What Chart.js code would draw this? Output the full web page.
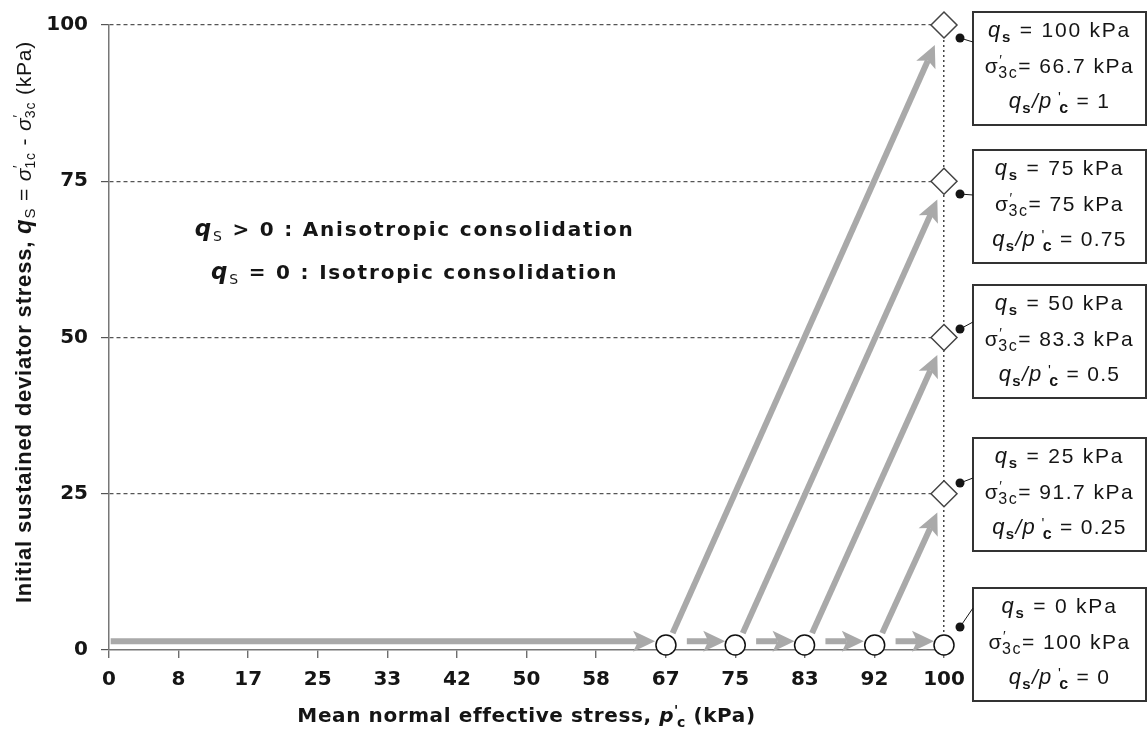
<!DOCTYPE html>
<html>
<head>
<meta charset="utf-8">
<script src="https://cdn.jsdelivr.net/npm/chart.js@4.4.1/dist/chart.umd.min.js"></script>
<style>
  html, body { margin: 0; padding: 0; background: #fff; }
  #wrap { width: 1148px; height: 732px; }
</style>
</head>
<body>
<div id="wrap"><canvas id="c" width="1148" height="732"></canvas></div>
<script>
// Mean normal effective stress ticks (kPa) and the rounded labels printed under them
const xTickValues = [0, 8.33, 16.67, 25, 33.33, 41.67, 50, 58.33, 66.67, 75, 83.33, 91.67, 100];
const xTickLabels = ['0', '8', '17', '25', '33', '42', '50', '58', '67', '75', '83', '92', '100'];

// Isotropically consolidated states (circles)
const isoP = [66.7, 75, 83.3, 91.7, 100];
const isoQ = [0.8, 0.8, 0.8, 0.8, 0.8];

// Anisotropically consolidated states (diamonds)
const anisoP = [100, 100, 100, 100];
const anisoQ = [100, 75, 50, 25];

// Isotropic loading paths along the p' axis
const isoPathFromP = [0.2, 69.2, 77.5, 85.8, 94.2];
const isoPathToP = [65.4, 73.8, 82.1, 90.4, 98.8];
const isoPathQ = [1.4, 1.4, 1.4, 1.4, 1.4];

// Deviatoric loading paths up to the sustained deviator stress
const shearFromP = [67.5, 75.9, 84.2, 92.6];
const shearFromQ = [2.7, 2.7, 2.7, 2.7];
const shearToP = [98.9, 99.2, 99.2, 99.2];
const shearToQ = [96.8, 72.1, 47.2, 22.0];

// Test conditions written in the side boxes
const caseQs = ['100', '75', '50', '25', '0'];
const caseSigma3c = ['66.7', '75', '83.3', '91.7', '100'];
const caseRatio = ['1', '0.75', '0.5', '0.25', '0'];

const ARROW_GREY = '#a9a9a9';
const INK = '#151515';

// Draws a run of text pieces (font changes, sub/superscripts) on one baseline
function drawRich(ctx, parts, x, y, align, spacing) {
  ctx.save();
  ctx.textAlign = 'left';
  ctx.textBaseline = 'alphabetic';
  if ('letterSpacing' in ctx) ctx.letterSpacing = (spacing || 0) + 'px';
  const widths = parts.map(p => { ctx.font = p.font; return ctx.measureText(p.t).width; });
  let total = 0;
  parts.forEach((p, i) => { total += (p.dx || 0) + widths[i]; });
  let cx = align === 'center' ? x - total / 2 : x;
  parts.forEach((p, i) => {
    cx += p.dx || 0;
    ctx.font = p.font;
    ctx.fillText(p.t, cx, y + (p.dy || 0));
    cx += widths[i];
  });
  ctx.restore();
  return total;
}

function drawArrow(ctx, x1, y1, x2, y2) {
  const len = Math.hypot(x2 - x1, y2 - y1);
  const ux = (x2 - x1) / len, uy = (y2 - y1) / len;
  const nx = -uy, ny = ux;
  const L = 22, W = 10.5, notch = 5;
  const bx = x2 - ux * (L - notch), by = y2 - uy * (L - notch);
  ctx.save();
  ctx.strokeStyle = ARROW_GREY;
  ctx.fillStyle = ARROW_GREY;
  ctx.lineWidth = 6;
  ctx.lineCap = 'butt';
  ctx.beginPath();
  ctx.moveTo(x1, y1);
  ctx.lineTo(bx, by);
  ctx.stroke();
  ctx.beginPath();
  ctx.moveTo(x2, y2);
  ctx.lineTo(x2 - ux * L + nx * W, y2 - uy * L + ny * W);
  ctx.lineTo(bx, by);
  ctx.lineTo(x2 - ux * L - nx * W, y2 - uy * L - ny * W);
  ctx.closePath();
  ctx.fill();
  ctx.restore();
}

// Stress paths, drawn underneath the state markers
const stressPaths = {
  id: 'stressPaths',
  beforeDatasetsDraw(chart) {
    const { ctx, scales: { x, y } } = chart;
    isoPathFromP.forEach((p, i) => {
      drawArrow(ctx, x.getPixelForValue(p), y.getPixelForValue(isoPathQ[i]),
        x.getPixelForValue(isoPathToP[i]), y.getPixelForValue(isoPathQ[i]));
    });
    shearFromP.forEach((p, i) => {
      drawArrow(ctx, x.getPixelForValue(p), y.getPixelForValue(shearFromQ[i]),
        x.getPixelForValue(shearToP[i]), y.getPixelForValue(shearToQ[i]));
    });
  }
};

// Legend text, condition boxes and axis titles
const notes = {
  id: 'notes',
  afterDraw(chart) {
    const { ctx, chartArea: area, scales: { x, y } } = chart;
    ctx.save();
    ctx.fillStyle = INK;

    // consolidation type note
    const NF = '"DejaVu Sans"';
    const noteX = x.getPixelForValue(36.6);
    drawRich(ctx, [
      { t: 'q', font: `bold italic 23px ${NF}` },
      { t: 'S', font: `14px ${NF}`, dy: 5 },
      { t: ' > 0 : Anisotropic consolidation', font: `bold 20px ${NF}` }
    ], noteX, y.getPixelForValue(66.3), 'center', 1.8);
    drawRich(ctx, [
      { t: 'q', font: `bold italic 23px ${NF}` },
      { t: 'S', font: `14px ${NF}`, dy: 5 },
      { t: ' = 0 : Isotropic consolidation', font: `bold 20px ${NF}` }
    ], noteX, y.getPixelForValue(59.3), 'center', 1.8);

    // condition boxes with leader dots
    const BF = '"Liberation Sans"';
    const boxLeft = area.right + 29, boxW = 173, boxH = 113;
    const boxTops = [12, 150, 285, 438, 588];
    const dotY = [38, 194, 329, 483, 627];
    const leadY = [42, 195, 322, 478, 608];
    caseQs.forEach((qs, i) => {
      const top = boxTops[i];
      ctx.fillStyle = '#fff';
      ctx.fillRect(boxLeft, top, boxW, boxH);
      ctx.strokeStyle = '#333';
      ctx.lineWidth = 2;
      ctx.strokeRect(boxLeft, top, boxW, boxH);

      ctx.strokeStyle = INK;
      ctx.lineWidth = 1;
      ctx.beginPath();
      ctx.moveTo(area.right + 16, dotY[i]);
      ctx.lineTo(boxLeft, leadY[i]);
      ctx.stroke();
      ctx.fillStyle = INK;
      ctx.beginPath();
      ctx.arc(area.right + 16, dotY[i], 4.5, 0, Math.PI * 2);
      ctx.fill();

      const cx = boxLeft + boxW / 2;
      drawRich(ctx, [
        { t: 'q', font: `italic 22px ${BF}` },
        { t: 's', font: `bold 15px ${BF}`, dy: 5 },
        { t: ' = ' + qs + ' kPa', font: `21px ${BF}` }
      ], cx, top + 25, 'center', 1.8);
      drawRich(ctx, [
        { t: 'σ', font: `21px ${BF}` },
        { t: '′', font: `14px ${BF}`, dy: -8 },
        { t: '3c', font: `16px ${BF}`, dy: 5, dx: -5 },
        { t: '= ' + caseSigma3c[i] + ' kPa', font: `21px ${BF}` }
      ], cx, top + 61, 'center', 1.5);
      drawRich(ctx, [
        { t: 'q', font: `italic 22px ${BF}` },
        { t: 's', font: `bold 15px ${BF}`, dy: 5 },
        { t: '/', font: `italic 21px ${BF}` },
        { t: 'p', font: `italic 22px ${BF}` },
        { t: ' \'', font: `15px ${BF}`, dy: -6 },
        { t: 'c', font: `bold 16px ${BF}`, dy: 5, dx: -3 },
        { t: ' = ' + caseRatio[i], font: `21px ${BF}` }
      ], cx, top + 96, 'center', 1.3);
    });

    // x-axis title
    drawRich(ctx, [
      { t: 'Mean normal effective stress, ', font: `bold 20px ${NF}` },
      { t: 'p', font: `bold italic 20px ${NF}` },
      { t: '\'', font: `bold 14px ${NF}`, dy: -7 },
      { t: 'c', font: `bold 14px ${NF}`, dy: 5, dx: -2 },
      { t: ' (kPa)', font: `bold 20px ${NF}` }
    ], (area.left + area.right) / 2, 722, 'center', 0.6);

    // y-axis title
    ctx.save();
    ctx.translate(23, 322);
    ctx.rotate(-Math.PI / 2);
    drawRich(ctx, [
      { t: 'Initial sustained deviator stress, ', font: `bold 22px ${BF}` },
      { t: 'q', font: `bold italic 24px ${BF}` },
      { t: 'S', font: `15px ${BF}`, dy: 4 },
      { t: ' = ', font: `21px ${BF}` },
      { t: 'σ', font: `italic 21px ${BF}` },
      { t: '′', font: `14px ${BF}`, dy: -8 },
      { t: '1c', font: `14px ${BF}`, dy: 4, dx: -4 },
      { t: ' - ', font: `21px ${BF}` },
      { t: 'σ', font: `italic 21px ${BF}` },
      { t: '′', font: `14px ${BF}`, dy: -8 },
      { t: '3c', font: `14px ${BF}`, dy: 4, dx: -4 },
      { t: ' (kPa)', font: `21px ${BF}` }
    ], 0, 8, 'center', 0.8);
    ctx.restore();

    ctx.restore();
  }
};

const tickFont = { family: 'DejaVu Sans', weight: 'bold', size: 20 };

new Chart(document.getElementById('c'), {
  type: 'scatter',
  data: {
    datasets: [
      {
        label: 'Isotropic',
        data: isoP.map((p, i) => ({ x: p, y: isoQ[i] })),
        pointStyle: 'circle',
        pointRadius: 10,
        pointBackgroundColor: '#fff',
        pointBorderColor: '#111',
        pointBorderWidth: 1.5,
        clip: false
      },
      {
        label: 'Anisotropic',
        data: anisoP.map((p, i) => ({ x: p, y: anisoQ[i] })),
        pointStyle: 'rectRot',
        pointRadius: 13,
        pointBackgroundColor: '#fff',
        pointBorderColor: '#444',
        pointBorderWidth: 1.5,
        clip: false
      }
    ]
  },
  options: {
    responsive: false,
    animation: false,
    events: [],
    layout: { padding: { top: 23, right: 204, left: 0, bottom: 0 } },
    plugins: { legend: { display: false }, tooltip: { enabled: false } },
    scales: {
      x: {
        type: 'linear',
        min: 0,
        max: 100,
        afterBuildTicks: s => { s.ticks = xTickValues.map(v => ({ value: v })); },
        afterFit: s => { s.height = 82; },
        ticks: {
          callback: (v, i) => xTickLabels[i],
          font: tickFont,
          color: INK,
          padding: 10,
          maxRotation: 0,
          autoSkip: false
        },
        grid: {
          color: c => (c.tick && c.tick.value === 100 ? '#444' : 'rgba(0,0,0,0)'),
          lineWidth: 1.5,
          tickColor: '#555',
          tickLength: 8,
          tickWidth: 1.2
        },
        border: { color: '#777', width: 1.5, dash: [2, 3] }
      },
      y: {
        min: 0,
        max: 100,
        afterFit: s => { s.width = 109; },
        ticks: { stepSize: 25, font: tickFont, color: INK, padding: 13 },
        grid: {
          color: c => (c.tick && c.tick.value === 0 ? 'rgba(0,0,0,0)' : '#555'),
          lineWidth: 1.2,
          tickColor: '#555',
          tickLength: 8,
          tickWidth: 1.2
        },
        border: { color: '#777', width: 1.5, dash: [4, 3] }
      }
    }
  },
  plugins: [stressPaths, notes]
});
</script>
</body>
</html>
